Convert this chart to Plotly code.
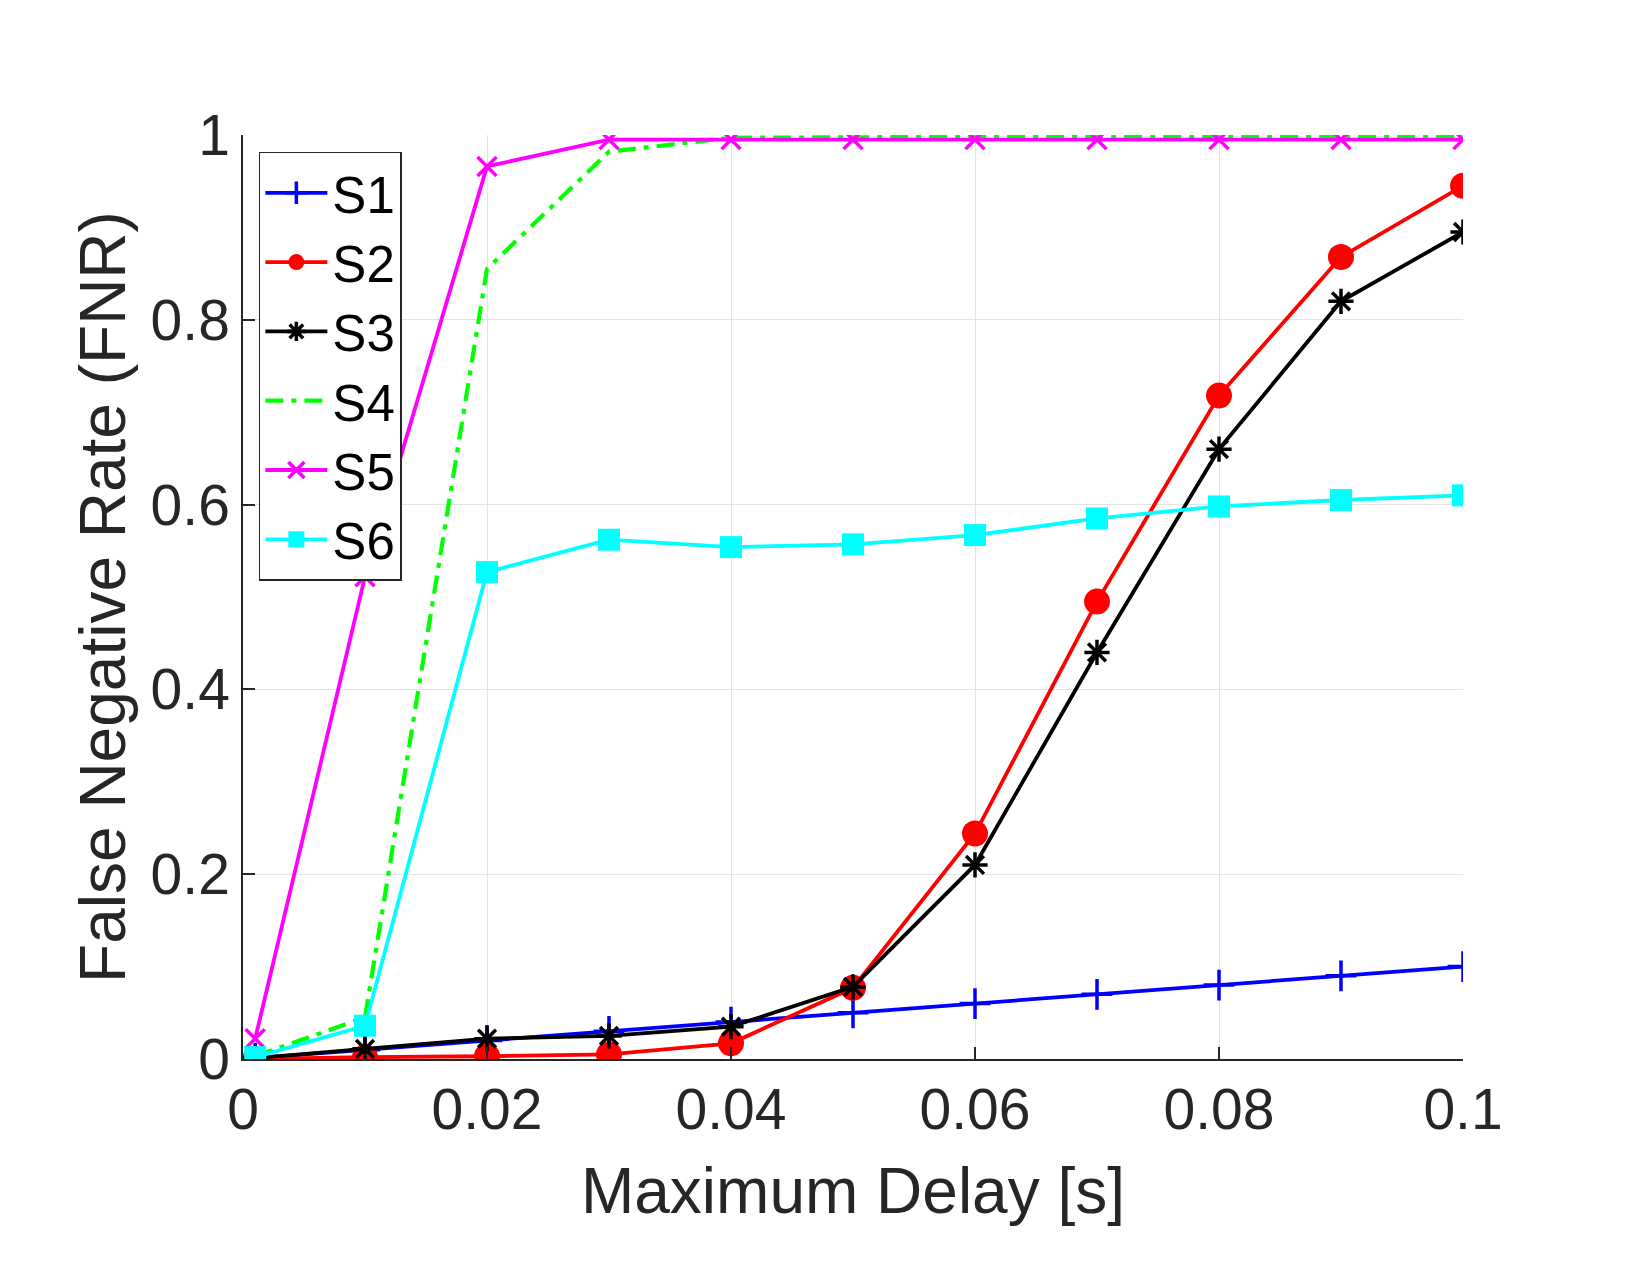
import plotly.graph_objects as go

x = [0.001, 0.01, 0.02, 0.03, 0.04, 0.05, 0.06, 0.07, 0.08, 0.09, 0.1]
s1 = [0.001, 0.01, 0.02, 0.03, 0.04, 0.05, 0.06, 0.07, 0.08, 0.09, 0.1]
s2 = [0.0, 0.002, 0.003, 0.005, 0.017, 0.077, 0.244, 0.495, 0.718, 0.868, 0.945]
s3 = [0.001, 0.011, 0.022, 0.025, 0.035, 0.078, 0.21, 0.44, 0.66, 0.82, 0.895]
s4 = [0.003, 0.045, 0.855, 0.982, 0.997, 0.998, 0.998, 0.998, 0.998, 0.998, 0.998]
s5 = [0.022, 0.522, 0.966, 0.995, 0.995, 0.995, 0.995, 0.995, 0.995, 0.995, 0.995]
s6 = [0.002, 0.036, 0.527, 0.562, 0.554, 0.557, 0.567, 0.585, 0.598, 0.605, 0.61]
names = ["S1", "S2", "S3", "S4", "S5", "S6"]

FONT = "Liberation Sans, Arial, sans-serif"
TXT = "#262626"
LW = 3.8

fig = go.Figure()
fig.add_trace(go.Scatter(x=x, y=s1, name=names[0], mode="lines+markers",
                         line=dict(color="#0000ff", width=LW),
                         marker=dict(symbol="cross-thin-open", size=22,
                                     line=dict(color="#0000ff", width=3.5))))
fig.add_trace(go.Scatter(x=x, y=s2, name=names[1], mode="lines+markers",
                         line=dict(color="#ff0000", width=LW),
                         marker=dict(symbol="circle", size=26, color="#ff0000")))
fig.add_trace(go.Scatter(x=x, y=s3, name=names[2], mode="lines+markers",
                         line=dict(color="#000000", width=LW),
                         marker=dict(symbol="asterisk-open", size=21,
                                     line=dict(color="#000000", width=3.5))))
fig.add_trace(go.Scatter(x=x, y=s4, name=names[3], mode="lines",
                         line=dict(color="#00ff00", width=4.2, dash="18px,8px,5px,8px")))
fig.add_trace(go.Scatter(x=x, y=s5, name=names[4], mode="lines+markers",
                         line=dict(color="#ff00ff", width=LW),
                         marker=dict(symbol="x-thin-open", size=19,
                                     line=dict(color="#ff00ff", width=3.5))))
fig.add_trace(go.Scatter(x=x, y=s6, name=names[5], mode="lines+markers",
                         line=dict(color="#00ffff", width=LW),
                         marker=dict(symbol="square", size=22, color="#00ffff")))

fig.update_layout(
    width=1650, height=1275,
    paper_bgcolor="white", plot_bgcolor="white",
    margin=dict(l=243, r=187, t=135, b=216),
    font=dict(family=FONT, color=TXT, size=56),
    showlegend=True,
    legend=dict(x=0.013, y=0.982, xanchor="left", yanchor="top",
                bgcolor="white", bordercolor="#262626", borderwidth=1.5,
                font=dict(size=51, color="#000000"), itemwidth=62,
                tracegroupgap=0),
)
fig.update_xaxes(range=[0, 0.1], tickvals=[0, 0.02, 0.04, 0.06, 0.08, 0.1],
                 ticktext=["0", "0.02", "0.04", "0.06", "0.08", "0.1"],
                 showgrid=True, gridcolor="#e3e3e3", gridwidth=1,
                 showline=True, linecolor="#262626", linewidth=1.5,
                 ticks="inside", ticklen=12, tickcolor="#262626", tickwidth=1.5,
                 tickfont=dict(size=57, color=TXT), zeroline=False,
                 title=dict(text="Maximum Delay [s]", font=dict(size=64, color=TXT), standoff=28))
fig.update_yaxes(range=[0, 1], tickvals=[0, 0.2, 0.4, 0.6, 0.8, 1],
                 ticktext=["0", "0.2", "0.4", "0.6", "0.8", "1"],
                 showgrid=True, gridcolor="#e3e3e3", gridwidth=1,
                 showline=True, linecolor="#262626", linewidth=1.5,
                 ticks="inside", ticklen=12, tickcolor="#262626", tickwidth=1.5,
                 tickfont=dict(size=57, color=TXT), zeroline=False,
                 title=dict(text="False Negative Rate (FNR)", font=dict(size=64, color=TXT), standoff=4))

fig.write_html("out.html")
